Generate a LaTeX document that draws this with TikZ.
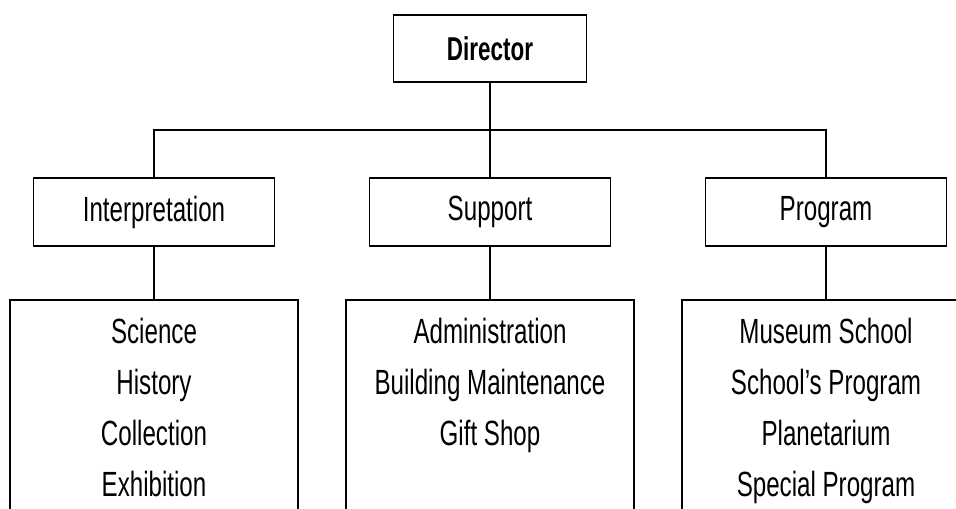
\documentclass[tikz,border=0pt]{standalone}
\usepackage{fontspec}
\setmainfont{Liberation Sans}[FakeStretch=0.69]
\newfontfamily\headfont{Liberation Sans}[FakeStretch=0.68]
\usetikzlibrary{positioning}

\tikzstyle{link} = [line width=0.9pt]
\tikzstyle{head} = [
        rectangle,
        minimum width=96.5pt,
        minimum height=33.5pt,
        text centered,
        draw=black,
        line width=0.9pt,
        font=\headfont\bfseries\fontsize{16.5}{20}\selectfont
    ]
\tikzstyle{unit} = [
        rectangle,
        minimum width=120.5pt,
        minimum height=34pt,
        text centered,
        draw=black,
        line width=0.9pt,
        font=\fontsize{17.5}{20}\selectfont
    ]
\tikzstyle{listbox} = [
        rectangle,
        minimum width=144pt,
        minimum height=130pt,
        draw=black,
        line width=0.9pt
    ]
\tikzstyle{listtext} = [
        inner sep=0pt,
        align=center,
        font=\fontsize{17.5}{25.6}\selectfont
    ]

\begin{document}
\begin{tikzpicture}[x=1pt,y=1pt,node distance=168pt]

        \useasboundingbox (0,0) rectangle (478,-254);
        \clip (0,0) rectangle (478,-254);

        \node [head] at (245,-24.25) (director) {Director};
        \node [unit, below of=director, node distance=81.75pt] (support) {Support};
        \node [unit, left of=support] (interp) {Interpretation};
        \node [unit, right of=support] (program) {Program};

        \node [listbox, below=26pt of interp] (interpBody) {};
        \node [listbox, below=26pt of support] (supportBody) {};
        \node [listbox, below=26pt of program] (programBody) {};

        \node [listtext, below=9.2pt of interpBody.north] (interpList) {Science\\History\\Collection\\Exhibition};
        \node [listtext, below=9.2pt of supportBody.north] (supportList) {Administration\\Building Maintenance\\Gift Shop};
        \node [listtext, below=9.2pt of programBody.north] (programList) {Museum School\\School's Program\\Planetarium\\Special Program};

        \coordinate (bar) at (245,-65);

        \draw [link] (director) -- (support);
        \draw [link] (interp.north) |- (bar) -| (program.north);
        \draw [link] (interp) -- (interpBody);
        \draw [link] (support) -- (supportBody);
        \draw [link] (program) -- (programBody);

\end{tikzpicture}
\end{document}
